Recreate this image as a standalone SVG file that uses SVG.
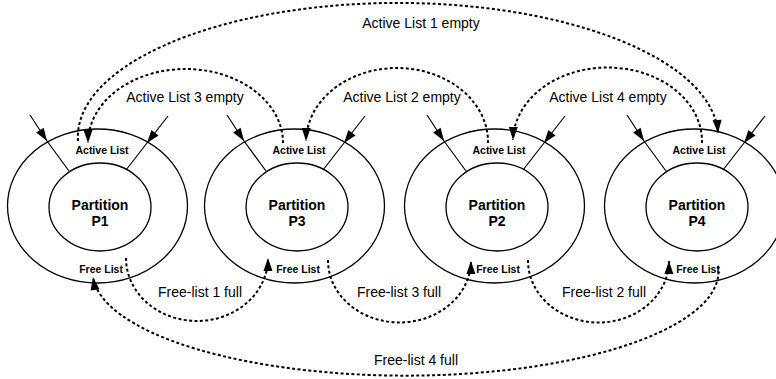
<svg xmlns="http://www.w3.org/2000/svg" width="776" height="379" viewBox="0 0 776 379">
  <style>
    .ring { fill: none; stroke: #000; stroke-width: 1.3; }
    .spoke { fill: none; stroke: #000; stroke-width: 1.2; }
    .feed { fill: none; stroke: #000; stroke-width: 1.2; marker-end: url(#head); }
    .hop { fill: none; stroke: #000; stroke-width: 2; stroke-dasharray: 3 2.4; marker-end: url(#head); }
    .small { font-family: "Liberation Sans", Arial, sans-serif; font-size: 10.5px; font-weight: bold; text-anchor: middle; }
    .title { font-family: "Liberation Sans", Arial, sans-serif; font-size: 14px; font-weight: bold; text-anchor: middle; }
    .label { font-family: "Liberation Sans", Arial, sans-serif; font-size: 14px; text-anchor: middle; }
  </style>
  <defs>
    <marker id="head" markerUnits="userSpaceOnUse" markerWidth="14" markerHeight="10" refX="13" refY="4.5" orient="auto" overflow="visible">
      <path d="M0,0 L13,4.5 L0,9 z" fill="#000" stroke="none"/>
    </marker>
    <!-- one partition: outer ring, inner core, two spokes, two feed arrows -->
    <g id="part">
      <ellipse class="ring" cx="-2.5" cy="206" rx="90" ry="77"/>
      <ellipse class="ring" cx="0" cy="207" rx="51" ry="44"/>
      <line class="spoke" x1="-53" y1="141" x2="-31" y2="171"/>
      <line class="spoke" x1="47" y1="143" x2="26" y2="170"/>
      <line class="feed" x1="-70" y1="115" x2="-53" y2="141"/>
      <line class="feed" x1="68" y1="116" x2="47" y2="143"/>
      <text class="small" x="2" y="154">Active List</text>
      <text class="small" x="1" y="273">Free List</text>
      <text class="title" x="0" y="210">Partition</text>
    </g>
  </defs>

  <g id="p1">
    <use href="#part" x="100"/>
    <text class="title" x="100" y="226">P1</text>
  </g>
  <g id="p3">
    <use href="#part" x="297"/>
    <text class="title" x="297" y="226">P3</text>
  </g>
  <g id="p2">
    <use href="#part" x="497"/>
    <text class="title" x="497" y="226">P2</text>
  </g>
  <g id="p4">
    <use href="#part" x="697"/>
    <text class="title" x="697" y="226">P4</text>
  </g>

  <g id="connectors">
    <!-- active-list hand-offs (upper arcs) -->
    <path class="hop" d="M78,141 A320,134 0 0 1 718,133"/>
    <path class="hop" d="M283,143 A97.5,74 0 0 0 88,143"/>
    <path class="hop" d="M488,143 A91,74 0 0 0 306,141"/>
    <path class="hop" d="M702,143 A94.5,74 0 0 0 513,140"/>
    <!-- free-list hand-offs (lower arcs) -->
    <path class="hop" d="M126,258 A71,63 0 0 0 268,258"/>
    <path class="hop" d="M328,260 A71.5,62 0 0 0 471,261"/>
    <path class="hop" d="M528,260 A70.5,62 0 0 0 669,261"/>
    <path class="hop" d="M718,266 A312.5,104 0 0 1 93,277"/>

    <text class="label" x="421" y="28">Active List 1 empty</text>
    <text class="label" x="185" y="102">Active List 3 empty</text>
    <text class="label" x="402" y="102">Active List 2 empty</text>
    <text class="label" x="608" y="102">Active List 4 empty</text>
    <text class="label" x="200" y="297">Free-list 1 full</text>
    <text class="label" x="399" y="297">Free-list 3 full</text>
    <text class="label" x="604" y="297">Free-list 2 full</text>
    <text class="label" x="416" y="365">Free-list 4 full</text>
  </g>
</svg>
